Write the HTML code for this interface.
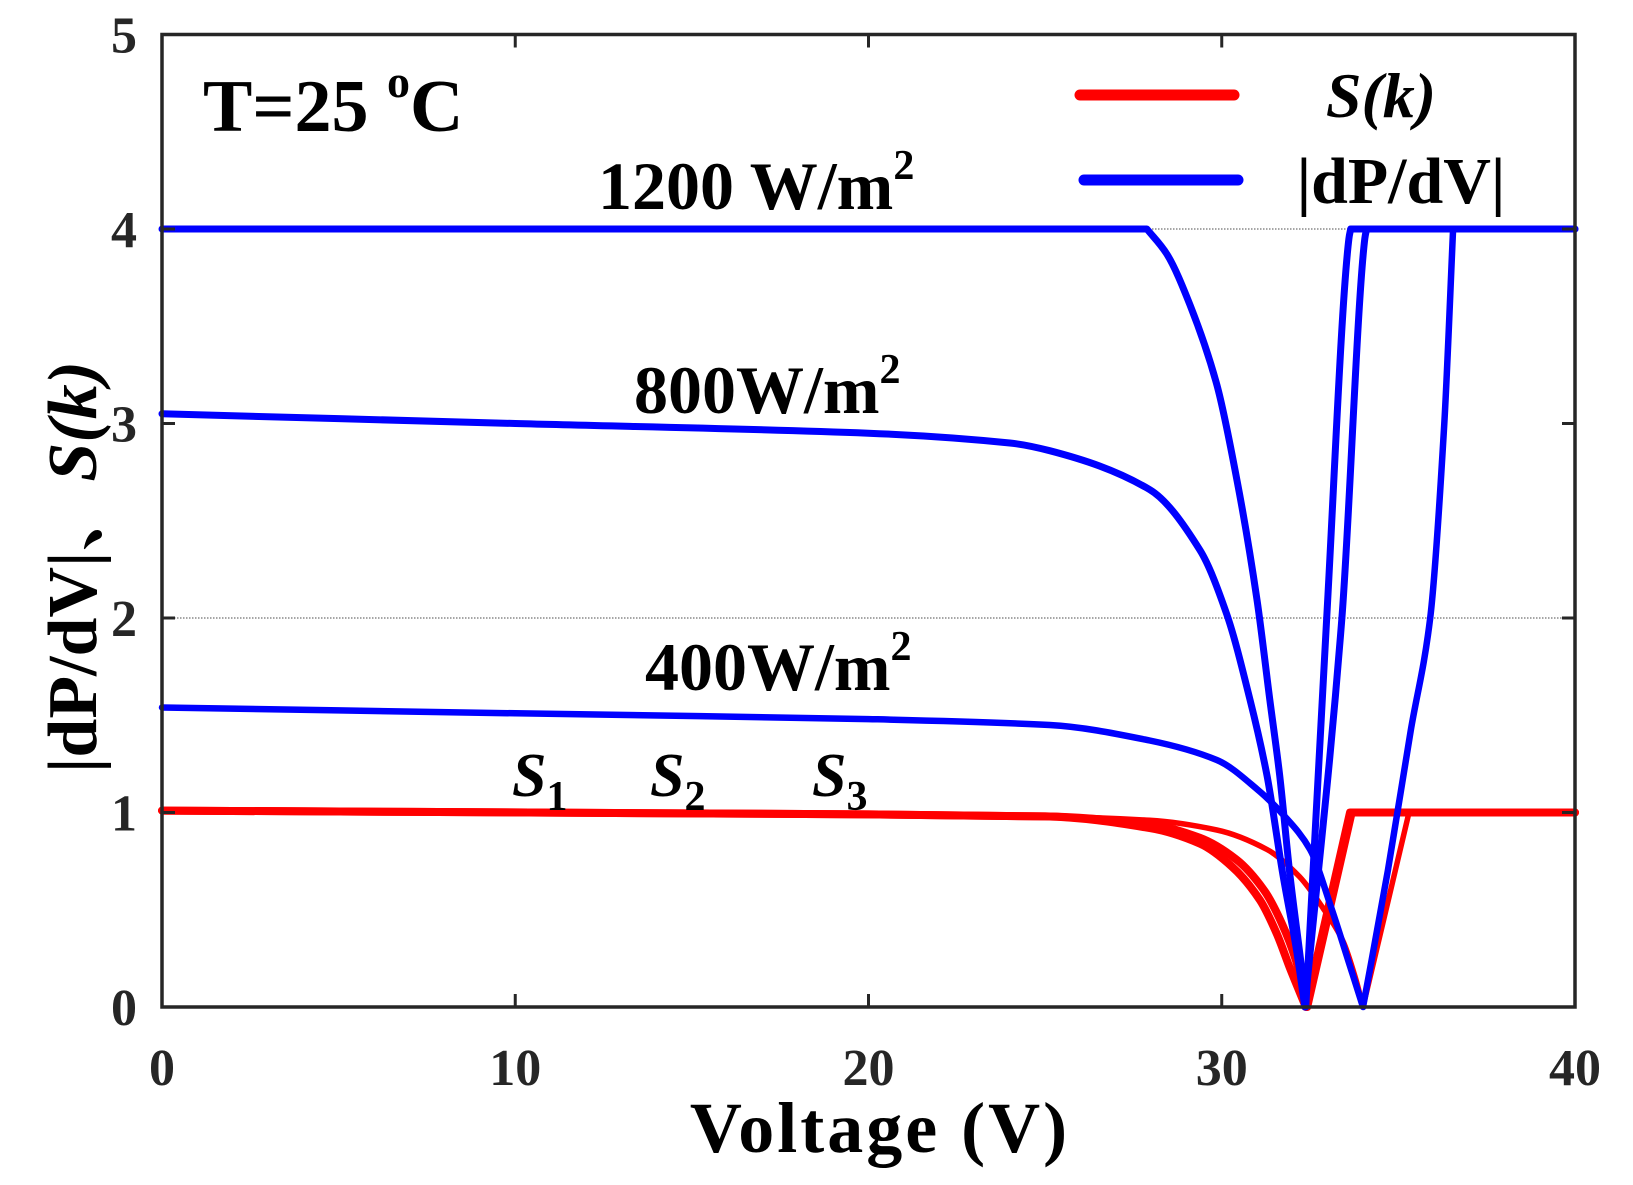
<!DOCTYPE html>
<html><head><meta charset="utf-8"><style>
html,body{margin:0;padding:0;background:#fff;}
svg{display:block;font-family:"Liberation Serif","Noto Serif CJK SC",serif;font-weight:bold;}
</style></head><body>
<svg id="chart" width="1633" height="1185" viewBox="0 0 1633 1185" xmlns="http://www.w3.org/2000/svg">
<g id="grid"></g>
<g id="series"></g>
<g id="axes"></g>
<text x="203" y="131" font-size="74" fill="#000">T=25 <tspan font-size="46" dy="-34">o</tspan><tspan dy="34">C</tspan></text>
<text x="598" y="209" font-size="68" fill="#000">1200 W/m<tspan font-size="42" dy="-30">2</tspan></text>
<text x="634" y="413" font-size="68" fill="#000">800W/m<tspan font-size="42" dy="-30">2</tspan></text>
<text x="645" y="690" font-size="68" fill="#000">400W/m<tspan font-size="42" dy="-30">2</tspan></text>
<text x="512" y="796" font-size="62" font-style="italic" fill="#000">S<tspan font-style="normal" font-size="42" dy="14">1</tspan></text>
<text x="650" y="796" font-size="62" font-style="italic" fill="#000">S<tspan font-style="normal" font-size="42" dy="14">2</tspan></text>
<text x="812" y="796" font-size="62" font-style="italic" fill="#000">S<tspan font-style="normal" font-size="42" dy="14">3</tspan></text>
<g>
<line x1="1080" y1="95" x2="1234" y2="95" stroke="#ff0000" stroke-width="11" stroke-linecap="round"/>
<text x="1381" y="117" font-size="64" font-style="italic" text-anchor="middle" fill="#000">S(k)</text>
<line x1="1084" y1="180" x2="1238" y2="180" stroke="#0000ff" stroke-width="11" stroke-linecap="round"/>
<text x="1401" y="203" font-size="66" text-anchor="middle" fill="#000">|dP/dV|</text>
</g>
<text x="0" y="0" font-size="70" text-anchor="middle" fill="#000" transform="translate(96,567) rotate(-90)">|dP/dV|、<tspan font-style="italic">S(k)</tspan></text>
<text x="880" y="1152" font-size="72" text-anchor="middle" fill="#000" letter-spacing="3">Voltage (V)</text>
</svg>
<script>
const xTicks=[0,10,20,30,40];
const yTicks=[0,1,2,3,4,5];
const gridY=[2,4];
const v1200=[0,27.88,28.45,29.1,29.86,30.43,31.0,31.36,31.64,31.93,32.3,32.38,32.97,33.6,33.65,40];
const d1200=[4,4,3.87,3.61,3.2,2.71,2.09,1.58,1.19,0.68,0.14,0,2,3.95,4,4];
const v800=[0,10,20,24,25.13,27.96,29.38,30.14,30.8,31.28,31.73,32.12,32.35,33.4,34.05,34.1,40];
const d800=[3.05,3.0,2.95,2.9,2.86,2.66,2.35,2.02,1.58,1.19,0.68,0.29,0,2,3.95,4,4];
const v400=[0,10,20,25.13,27.96,29.86,31.0,31.73,32.5,33.1,33.7,34.0,34.7,35.35,35.9,36.3,36.55,40];
const d400=[1.54,1.51,1.48,1.45,1.37,1.27,1.12,0.99,0.81,0.51,0.17,0,0.7,1.42,2.0,3.0,4,4];
const vS1=[0,20,25,27.96,29.38,30.3,31.08,31.55,31.93,32.38,33.63,40];
const sS1=[1.01,0.99,0.98,0.92,0.84,0.72,0.55,0.38,0.2,0,1,1];
const vS2=[0,20,25,27.96,29.38,30.4,31.2,31.7,32.1,32.42,33.68,40];
const sS2=[1.01,0.99,0.98,0.94,0.87,0.76,0.6,0.43,0.24,0,1,1];
const vS3=[0,20,25,27.96,29.86,31.28,32.2,32.86,33.43,33.8,34.0,35.3,40];
const sS3=[1.01,0.99,0.98,0.96,0.91,0.81,0.67,0.51,0.34,0.14,0,1,1];

const NS="http://www.w3.org/2000/svg";
const X0=162,X1=1575,Y0=1007,Y1=34.5;
const sx=v=>X0+(v-0)/(40-0)*(X1-X0);
const sy=v=>Y0-(v-0)/(5-0)*(Y0-Y1);
function mk(tag,attrs,parent){const e=document.createElementNS(NS,tag);for(const k in attrs)e.setAttribute(k,attrs[k]);parent.appendChild(e);return e;}
const grid=document.getElementById('grid'),series=document.getElementById('series'),axes=document.getElementById('axes');
gridY.forEach(g=>{
  const l=mk('line',{x1:X0,x2:X1,y1:sy(g),y2:sy(g),stroke:'#888','stroke-width':1.5,'stroke-dasharray':'1.5 1.5'},grid);
  
  
});
// monotone cubic per piece, split at extrema / plateau boundaries
function smoothPath(xs,ys){
  const P=xs.map((x,i)=>[sx(x),sy(ys[i])]);
  const n=P.length;
  const sl=[];for(let i=0;i<n-1;i++)sl.push((P[i+1][1]-P[i][1])/(P[i+1][0]-P[i][0]));
  const brk=[0];
  for(let i=1;i<n-1;i++){
    const a=sl[i-1],b=sl[i];
    if(Math.sign(a)!==Math.sign(b)||Math.abs(a)<1e-9||Math.abs(b)<1e-9) brk.push(i);
  }
  brk.push(n-1);
  let d='M'+P[0][0].toFixed(1)+' '+P[0][1].toFixed(1);
  for(let k=0;k<brk.length-1;k++){
    const s=brk[k],e=brk[k+1];
    const m=[];
    for(let i=s;i<=e;i++){
      if(i===s)m.push(sl[i]);else if(i===e)m.push(sl[i-1]);
      else{const a=sl[i-1],b=sl[i];m.push(a*b<=0?0:2/(1/a+1/b));}
    }
    for(let i=s;i<e;i++){
      const h=P[i+1][0]-P[i][0];
      const m0=m[i-s],m1=m[i+1-s];
      d+='C'+(P[i][0]+h/3).toFixed(1)+' '+(P[i][1]+m0*h/3).toFixed(1)+' '+(P[i+1][0]-h/3).toFixed(1)+' '+(P[i+1][1]-m1*h/3).toFixed(1)+' '+P[i+1][0].toFixed(1)+' '+P[i+1][1].toFixed(1);
    }
  }
  return d;
}
function path(xs,ys,color,w,name){
  const p=mk('path',{d:smoothPath(xs,ys),fill:'none',stroke:color,'stroke-width':w,'stroke-linejoin':'round','stroke-linecap':'round'},series);
  
  
}
path(vS1,sS1,'#ff0000',8,'sk-curve-1200');
path(vS2,sS2,'#ff0000',8,'sk-curve-800');
path(vS3,sS3,'#ff0000',5.5,'sk-curve-400');
path(v400,d400,'#0000ff',6.5,'dpdv-curve-400');
path(v800,d800,'#0000ff',7,'dpdv-curve-800');
path(v1200,d1200,'#0000ff',7,'dpdv-curve-1200');
const box=mk('rect',{x:X0,y:Y1,width:X1-X0,height:Y0-Y1,fill:'none',stroke:'#262626','stroke-width':3.5},axes);


xTicks.forEach(t=>{
  if(t>0&&t<40){
    const a=mk('line',{x1:sx(t),x2:sx(t),y1:Y0,y2:Y0-13,stroke:'#262626','stroke-width':3},axes);
    
    
    const b=mk('line',{x1:sx(t),x2:sx(t),y1:Y1,y2:Y1+13,stroke:'#262626','stroke-width':3},axes);
    
    
  }
  const tx=mk('text',{x:sx(t),y:1085,'font-size':52,'text-anchor':'middle',fill:'#262626'},axes);
  tx.textContent=t;
  
  
});
yTicks.forEach(t=>{
  if(t>0&&t<5){
    const a=mk('line',{x1:X0,x2:X0+13,y1:sy(t),y2:sy(t),stroke:'#262626','stroke-width':3},axes);
    
    
    const b=mk('line',{x1:X1,x2:X1-13,y1:sy(t),y2:sy(t),stroke:'#262626','stroke-width':3},axes);
    
    
  }
  const tx=mk('text',{x:137,y:sy(t)+18,'font-size':52,'text-anchor':'end',fill:'#262626'},axes);
  tx.textContent=t;
  
  
});
</script>
</body></html>
